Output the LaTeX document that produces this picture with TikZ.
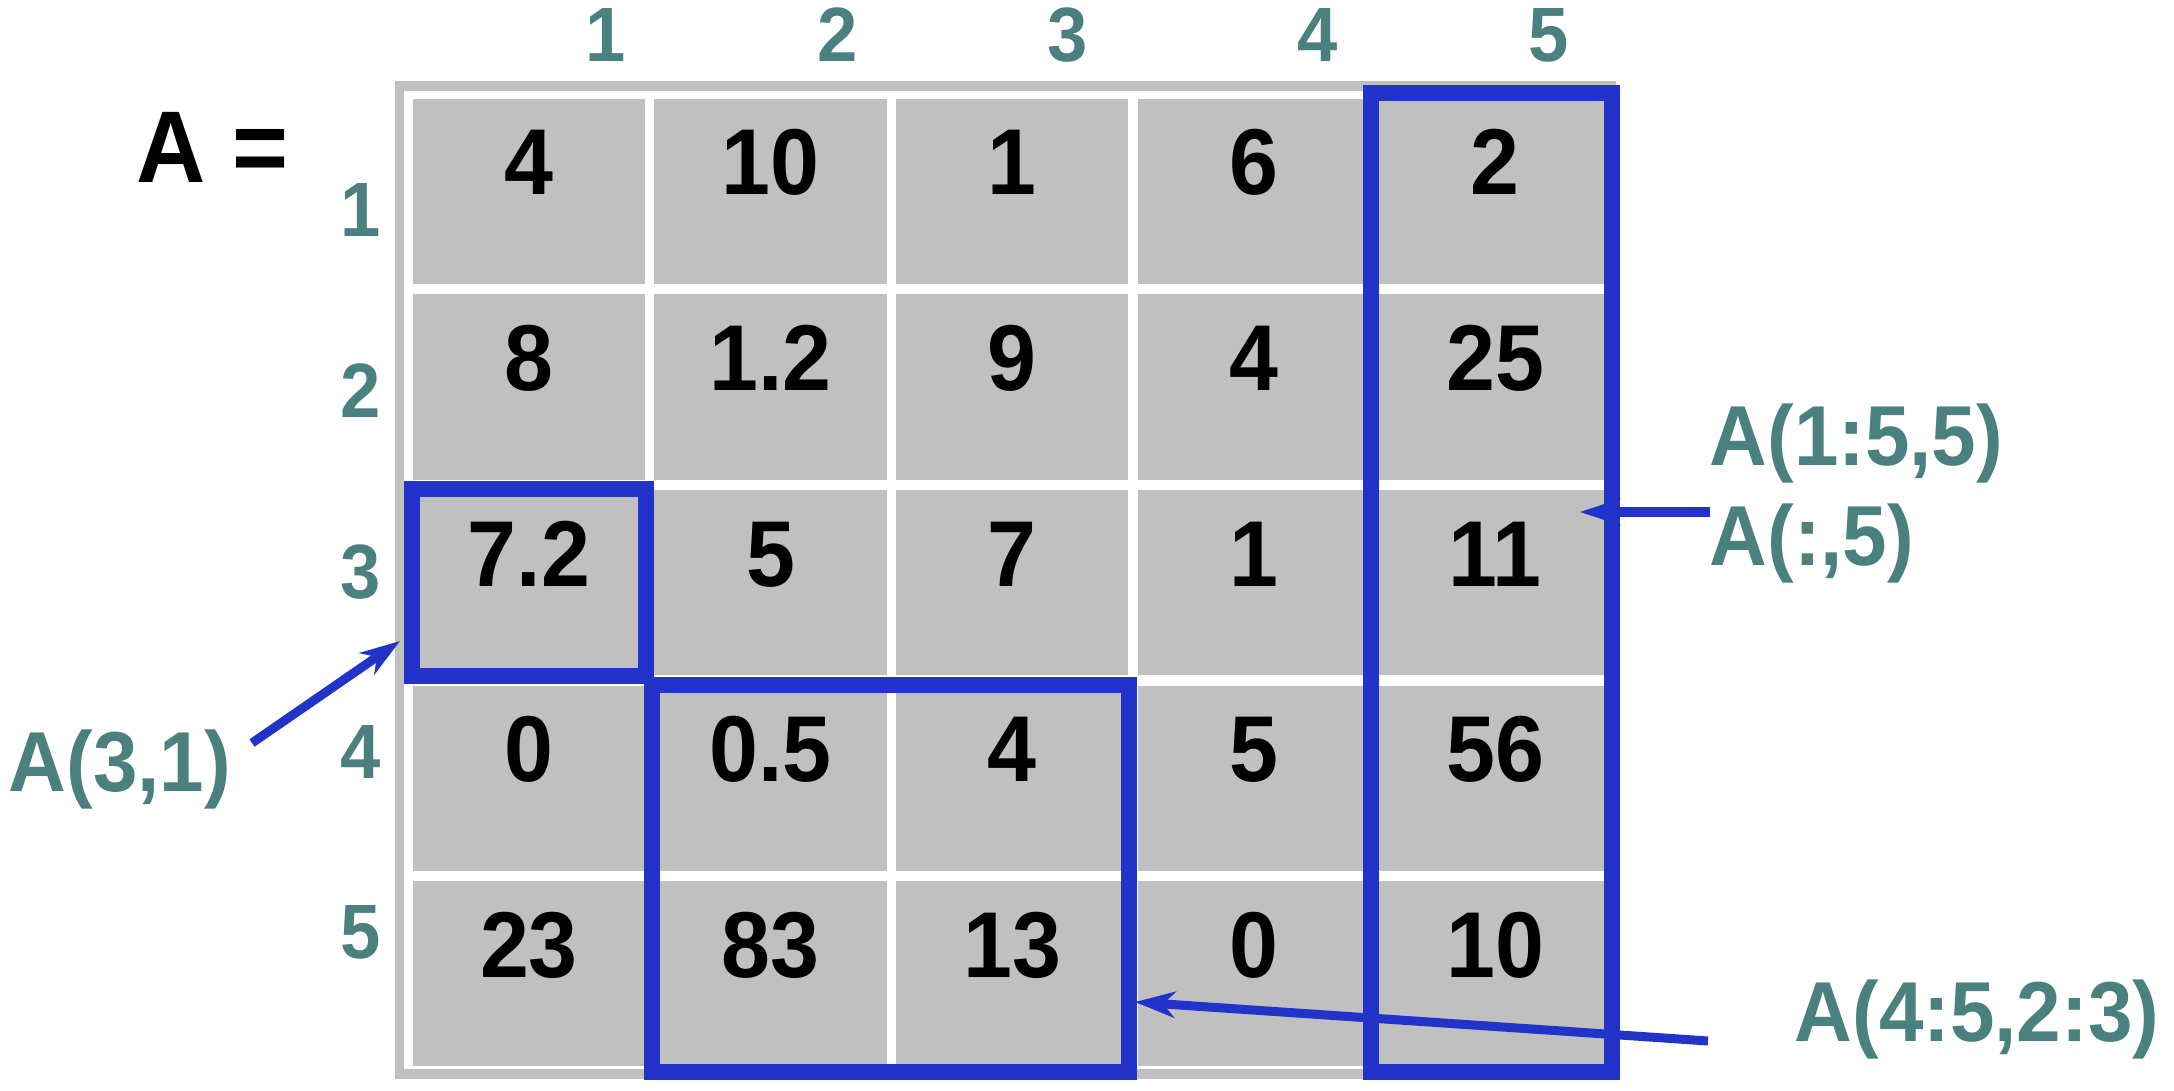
\documentclass[tikz,border=0pt]{standalone}
\usepackage{fontspec}
\setmainfont[FakeStretch=0.94]{Liberation Sans}
\usetikzlibrary{positioning,arrows.meta}
\definecolor{idxteal}{RGB}{74,128,126}
\definecolor{selblue}{RGB}{33,51,201}
\definecolor{cellgray}{RGB}{192,192,192}
\tikzstyle{cell}=[rectangle, fill=cellgray, inner sep=0pt, minimum width=2.32cm, text height=0.96cm, text depth=0.89cm, font=\fontsize{26.6}{30}\selectfont\bfseries]
\tikzstyle{idx}=[text=idxteal, anchor=base, font=\fontsize{21.9}{24}\selectfont\bfseries]
\tikzstyle{selname}=[text=idxteal, anchor=base west, inner sep=0pt, font=\fontsize{24.2}{28}\selectfont\bfseries]
\tikzstyle{selbox}=[draw=selblue, line width=0.16cm]
\tikzstyle{pointer}=[draw=selblue, line width=0.09cm, -{Stealth[length=0.4cm, width=0.26cm, inset=0.12cm]}]

\begin{document}
\begin{tikzpicture}[x=0.01cm, y=-0.01cm]
      \useasboundingbox (0,0) rectangle (2174,1091);
      % frame
      \fill[cellgray] (395,81) rectangle (1616,1079);
      \fill[white] (404,91) rectangle (1607,1069);
      % matrix entries
      \node[cell](a11) at (529,191.5) {4};
      \node[cell, right=0.08cm of a11](a12) {10};
      \node[cell, right=0.08cm of a12](a13) {1};
      \node[cell, right=0.08cm of a13](a14) {6};
      \node[cell, right=0.08cm of a14](a15) {2};
      \node[cell, below=0.09cm of a11](a21) {8};
      \node[cell, right=0.08cm of a21](a22) {1.2};
      \node[cell, right=0.08cm of a22](a23) {9};
      \node[cell, right=0.08cm of a23](a24) {4};
      \node[cell, right=0.08cm of a24](a25) {25};
      \node[cell, below=0.09cm of a21](a31) {7.2};
      \node[cell, right=0.08cm of a31](a32) {5};
      \node[cell, right=0.08cm of a32](a33) {7};
      \node[cell, right=0.08cm of a33](a34) {1};
      \node[cell, right=0.08cm of a34](a35) {11};
      \node[cell, below=0.09cm of a31](a41) {0};
      \node[cell, right=0.08cm of a41](a42) {0.5};
      \node[cell, right=0.08cm of a42](a43) {4};
      \node[cell, right=0.08cm of a43](a44) {5};
      \node[cell, right=0.08cm of a44](a45) {56};
      \node[cell, below=0.09cm of a41](a51) {23};
      \node[cell, right=0.08cm of a51](a52) {83};
      \node[cell, right=0.08cm of a52](a53) {13};
      \node[cell, right=0.08cm of a53](a54) {0};
      \node[cell, right=0.08cm of a54](a55) {10};
      % indices
      \node[idx](col1) at (606,62) {1};
      \node[idx](col2) at (838,62) {2};
      \node[idx](col3) at (1068,62) {3};
      \node[idx](col4) at (1318,62) {4};
      \node[idx](col5) at (1549,62) {5};
      \node[idx](row1) at (361,237) {1};
      \node[idx](row2) at (361,418) {2};
      \node[idx](row3) at (361,599) {3};
      \node[idx](row4) at (361,778) {4};
      \node[idx](row5) at (361,958) {5};
      \node[anchor=base west, inner sep=0pt, font=\fontsize{29}{32}\selectfont\bfseries](mat) at (136,183) {A =};
      % selections
      \node[selname](s31) at (8,791) {A(3,1)};
      \node[selname](s15a) at (1709,466) {A(1:5,5)};
      \node[selname](s15b) at (1709,566) {A(:,5)};
      \node[selname](s45) at (1794,1041) {A(4:5,2:3)};
      \coordinate (p31) at (252,743);
      \coordinate (t31) at (400,641);
      \coordinate (p15) at (1710,512);
      \coordinate (t15) at (1580,512);
      \coordinate (p45) at (1708,1041);
      \coordinate (t45) at (1135,1002);
      \begin{scope}[every path/.style={selbox}]
        \draw (a31.north west) rectangle (a31.south east);
        \draw ([xshift=-0.02cm]a42.north west) rectangle ([yshift=-0.05cm]a53.south east);
        \draw ([shift={(-0.07cm,0.05cm)}]a15.north west) rectangle ([yshift=-0.05cm]a55.south east);
      \end{scope}
      \begin{scope}[every path/.style={pointer}]
        \draw (p31) -- (t31);
        \draw (p15) -- (t15);
        \draw (p45) -- (t45);
      \end{scope}
    \end{tikzpicture}
\end{document}
